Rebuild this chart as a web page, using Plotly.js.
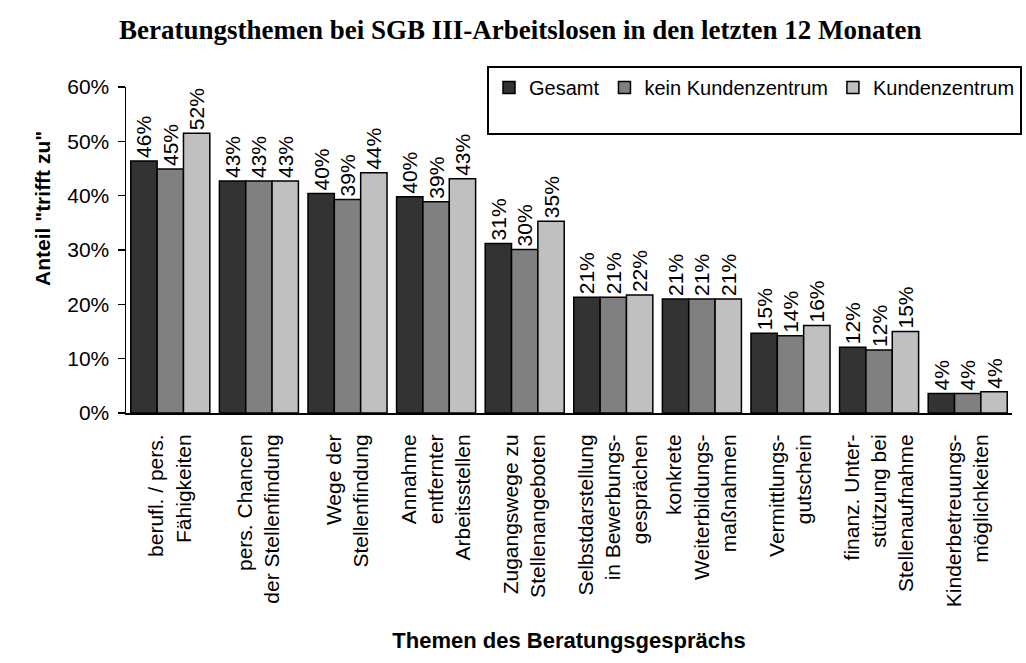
<!DOCTYPE html>
<html>
<head>
<meta charset="utf-8">
<script src="https://cdn.plot.ly/plotly-3.0.1.min.js"></script>
<style>html,body{margin:0;padding:0;background:#fff;}</style>
</head>
<body>
<div id="chart" style="width:1026px;height:663px;"></div>
<script>
const categories = [
  "berufl. / pers.<br>Fähigkeiten",
  "pers. Chancen<br>der Stellenfindung",
  "Wege der<br>Stellenfindung",
  "Annahme<br>entfernter<br>Arbeitsstellen",
  "Zugangswege zu<br>Stellenangeboten",
  "Selbstdarstellung<br>in Bewerbungs-<br>gesprächen",
  "konkrete<br>Weiterbildungs-<br>maßnahmen",
  "Vermittlungs-<br>gutschein",
  "finanz. Unter-<br>stützung bei<br>Stellenaufnahme",
  "Kinderbetreuungs-<br>möglichkeiten"
];
const gesamt = [0.464, 0.427, 0.404, 0.398, 0.312, 0.213, 0.210, 0.147, 0.121, 0.036];
const keinKundenzentrum = [0.449, 0.427, 0.393, 0.389, 0.301, 0.213, 0.210, 0.142, 0.116, 0.036];
const kundenzentrum = [0.515, 0.427, 0.442, 0.431, 0.353, 0.217, 0.210, 0.161, 0.150, 0.039];
const seriesNames = ["Gesamt", "kein Kundenzentrum", "Kundenzentrum"];
const yTickVals = [0, 0.1, 0.2, 0.3, 0.4, 0.5, 0.6];

const FONT = "Liberation Sans, Arial, sans-serif";
const colors = ["#333333", "#808080", "#c0c0c0"];
const data = [gesamt, keinKundenzentrum, kundenzentrum].map((vals, i) => ({
  type: "bar",
  name: seriesNames[i] + "<br> ",
  x: categories,
  y: vals,
  marker: {color: colors[i], line: {color: "#000", width: 1.5}},
  texttemplate: "%{y:.0%}",
  textposition: "outside",
  textangle: -90,
  constraintext: "none",
  cliponaxis: false,
  textfont: {family: FONT, size: 21, color: "#000"},
  hoverinfo: "none"
}));

const layout = {
  width: 1026, height: 663,
  paper_bgcolor: "#fff", plot_bgcolor: "#fff",
  font: {family: FONT, size: 21, color: "#000"},
  margin: {l: 126, r: 14, t: 87, b: 250, autoexpand: false},
  barmode: "group",
  bargap: 0.108,
  bargroupgap: 0,
  title: {
    text: "<b>Beratungsthemen bei SGB III-Arbeitslosen in den letzten 12 Monaten</b>",
    font: {family: "Liberation Serif, Times New Roman, serif", size: 27, color: "#000"},
    x: 0.507, xanchor: "center", y: 1 - 30/663, yanchor: "middle", yref: "container"
  },
  xaxis: {
    type: "category",
    tickangle: -90,
    ticks: "",
    showline: true, linecolor: "#000", linewidth: 2,
    showgrid: false,
    ticklabelstandoff: 11,
    tickfont: {family: FONT, size: 21},
    title: {text: "<b>Themen des Beratungsgesprächs</b>", font: {family: FONT, size: 22}, standoff: 26}
  },
  yaxis: {
    range: [0, 0.6],
    tickvals: yTickVals,
    tickformat: ".0%",
    ticks: "outside", ticklen: 7, tickwidth: 1.5, tickcolor: "#000",
    showline: true, linecolor: "#000", linewidth: 1.5,
    showgrid: false, zeroline: false,
    ticklabelstandoff: 4,
    tickfont: {family: FONT, size: 21}
  },
  annotations: [{
    text: "<b>Anteil \"trifft zu\"</b>",
    textangle: -90,
    xref: "paper", yref: "paper",
    x: (42 - 126) / 886, xanchor: "center",
    y: (413 - 209) / 326, yanchor: "middle",
    showarrow: false,
    font: {family: FONT, size: 21, color: "#000"}
  }],
  legend: {
    orientation: "h",
    x: (487 - 126) / 886, xanchor: "left",
    y: (413 - 66) / 326, yanchor: "top",
    bordercolor: "#000", borderwidth: 2, bgcolor: "#fff",
    valign: "top",
    font: {family: FONT, size: 20}
  },
  showlegend: true
};

Plotly.newPlot("chart", data, layout, {displayModeBar: false, staticPlot: true});
</script>
</body>
</html>
